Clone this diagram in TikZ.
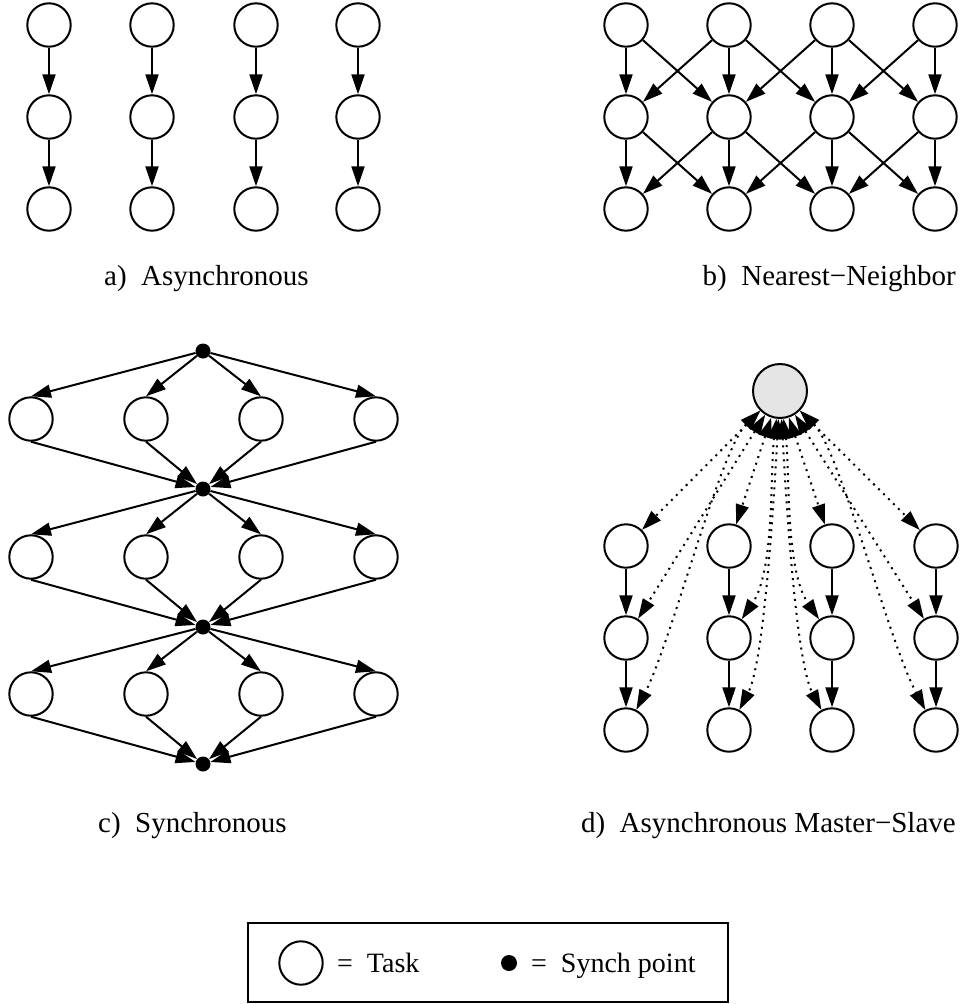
\documentclass[tikz,border=0pt]{standalone}
\usepackage{fontspec}
\setmainfont{Liberation Serif}
\usetikzlibrary{arrows.meta}
\begin{document}
\begin{tikzpicture}[x=1pt,y=-1pt,
  task/.style={circle,draw,line width=2pt,minimum size=43.4pt,inner sep=0pt},
  master/.style={circle,draw,line width=2pt,fill=black!10,minimum size=54pt,inner sep=0pt},
  syncpt/.style={circle,fill=black,minimum size=15pt,inner sep=0pt},
  arr/.style={line width=2pt,-{Triangle[length=20pt,width=13pt]}},
  darr/.style={line width=2pt,dash pattern=on 2pt off 5pt,
    {Triangle[length=20pt,width=13pt]}-{Triangle[length=20pt,width=13pt]}},
  capt/.style={anchor=base west,inner sep=0pt,font=\fontsize{29}{35}\selectfont},
  legtxt/.style={anchor=base west,inner sep=0pt,font=\fontsize{28}{34}\selectfont},
]
\useasboundingbox (0,0) rectangle (959,1004);

% ---------- a) Asynchronous ----------
\foreach \c/\x in {1/49,2/152,3/256,4/358}{
  \node[task] (aA\c) at (\x,25) {};
  \node[task] (aB\c) at (\x,117) {};
  \node[task] (aC\c) at (\x,209) {};
  \draw[arr] (aA\c) -- (aB\c);
  \draw[arr] (aB\c) -- (aC\c);
}
\node[capt] (capa) at (104,285) {a)\ \ Asynchronous};

% ---------- b) Nearest-Neighbor ----------
\foreach \c/\x in {1/626,2/729,3/832,4/935}{
  \node[task] (bA\c) at (\x,25) {};
  \node[task] (bB\c) at (\x,117) {};
  \node[task] (bC\c) at (\x,209) {};
}
\foreach \c in {1,2,3,4}{
  \draw[arr] (bA\c) -- (bB\c);
  \draw[arr] (bB\c) -- (bC\c);
}
\foreach \c/\d in {1/2,2/3,3/4}{
  \draw[arr] (bA\c) -- (bB\d);
  \draw[arr] (bA\d) -- (bB\c);
  \draw[arr] (bB\c) -- (bC\d);
  \draw[arr] (bB\d) -- (bC\c);
}
\node[capt,anchor=base east] (capb) at (956,285) {b)\ \ Nearest\char"2212 Neighbor};

% ---------- c) Synchronous ----------
\node[syncpt] (s0) at (203,351) {};
\node[syncpt] (s1) at (203,489) {};
\node[syncpt] (s2) at (203,627) {};
\node[syncpt] (s3) at (203,764) {};
\foreach \r/\y/\p/\n in {1/419/s0/s1,2/557/s1/s2,3/694/s2/s3}{
  \foreach \c/\x in {1/31,2/146,3/261,4/376}{
    \node[task] (c\r\c) at (\x,\y) {};
    \draw[arr] (\p) -- (c\r\c.north);
    \draw[arr] (c\r\c.south) -- (\n);
  }
}
\node[capt] (capc) at (98,832) {c)\ \ Synchronous};

% ---------- d) Asynchronous Master-Slave ----------
\node[master] (m) at (780,391) {};
\foreach \c/\x in {1/626,2/729,3/832,4/936}{
  \node[task] (dA\c) at (\x,546) {};
  \node[task] (dB\c) at (\x,638) {};
  \node[task] (dC\c) at (\x,730) {};
  \draw[arr] (dA\c) -- (dB\c);
  \draw[arr] (dB\c) -- (dC\c);
}
\draw[darr] (m) -- (dA1);
\draw[darr] (m) -- (dB1);
\draw[darr] (m) .. controls (720,450) and (672,640) .. (dC1);
\draw[darr] (m) -- (dA2);
\draw[darr] (m) .. controls (770,470) and (775,570) .. (dB2);
\draw[darr] (m) .. controls (775,480) and (765,660) .. (dC2);
\draw[darr] (m) -- (dA3);
\draw[darr] (m) .. controls (790,470) and (785,570) .. (dB3);
\draw[darr] (m) .. controls (785,480) and (795,660) .. (dC3);
\draw[darr] (m) -- (dA4);
\draw[darr] (m) -- (dB4);
\draw[darr] (m) .. controls (840,450) and (888,640) .. (dC4);
\node[capt,anchor=base east] (capd) at (956,832) {d)\ \ Asynchronous Master\char"2212 Slave};

% ---------- legend ----------
\node[draw,line width=2pt,minimum width=480pt,minimum height=79pt,inner sep=0pt] (leg) at (488,962.5) {};
\node[task] (legtask) at (301,963) {};
\node[legtxt] (legeq1) at (337,972) {=\ \ Task};
\node[syncpt,minimum size=16pt] (legsync) at (509,963) {};
\node[legtxt] (legeq2) at (531,972) {=\ \ Synch point};
\end{tikzpicture}
\end{document}
